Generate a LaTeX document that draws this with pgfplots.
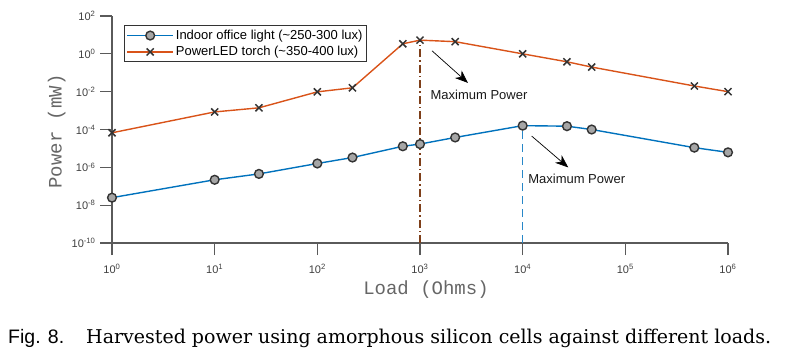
\documentclass[border=0pt]{standalone}
\usepackage{fontspec}
\setmainfont{Liberation Sans}
\newfontfamily\monofont{Liberation Mono}
\newfontfamily\capserif{DejaVu Serif}
\usepackage{pgfplots}
\pgfplotsset{compat=1.18}
\usetikzlibrary{arrows.meta}
\definecolor{mblue}{RGB}{0,114,189}
\definecolor{morange}{RGB}{217,83,25}
\definecolor{dblue}{RGB}{40,135,200}
\definecolor{dbrown}{RGB}{126,63,26}
\definecolor{axgray}{RGB}{90,90,90}

\pgfplotstableread{
x y
1 2.5e-8
10 2.2e-7
27 4.5e-7
100 1.6e-6
220 3.3e-6
680 1.3e-5
1000 1.7e-5
2200 3.8e-5
10000 1.6e-4
27000 1.5e-4
47000 1.0e-4
470000 1.1e-5
1000000 6.2e-6
}\officedata

\pgfplotstableread{
x y
1 6.7e-5
10 8.5e-4
27 1.4e-3
100 9.8e-3
220 1.6e-2
680 3.4
1000 5.3
2200 4.4
10000 1.0
27000 0.38
47000 0.2
470000 0.02
1000000 0.01
}\torchdata

\begin{document}
\begin{tikzpicture}[x=1bp,y=1bp]
\useasboundingbox (0,0) rectangle (788,-353);
\begin{axis}[
  at={(112bp,-243bp)}, anchor=south west,
  scale only axis, width=616bp, height=227bp,
  xmode=log, ymode=log, log basis x=10, log basis y=10,
  xmin=1, xmax=1e6, ymin=1e-10, ymax=1e2,
  axis lines=left,
  x axis line style={-, draw=axgray, line width=1.1bp},
  y axis line style={-, draw=axgray, line width=1.1bp},
  tick align=outside,
  major tick length=12bp, minor tick length=6bp,
  every tick/.style={draw=axgray, line width=1.1bp},
  xtick={1,10,100,1000,10000,100000,1000000},
  xticklabels={10\textsuperscript{0},10\textsuperscript{1},10\textsuperscript{2},10\textsuperscript{3},10\textsuperscript{4},10\textsuperscript{5},10\textsuperscript{6}},
  ytick={1e-10,1e-8,1e-6,1e-4,1e-2,1,1e2},
  yticklabels={10\textsuperscript{-10},10\textsuperscript{-8},10\textsuperscript{-6},10\textsuperscript{-4},10\textsuperscript{-2},10\textsuperscript{0},10\textsuperscript{2}},
  yminorticks=false,
  tick label style={font=\fontsize{11bp}{13bp}\selectfont, text=black!75},
  xticklabel style={yshift=-6bp},
  yticklabel style={xshift=-1bp},
  xlabel={Load (Ohms)},
  ylabel={Power (mW)},
  label style={font=\monofont\fontsize{19bp}{22bp}\selectfont, text=black!60},
  xlabel style={at={(axis description cs:0.5,0)}, anchor=center, xshift=6bp, yshift=-47bp},
  ylabel style={at={(axis description cs:-0.0898,0.491)}, anchor=center},
  legend style={at={(axis description cs:0.0195,0.96)}, anchor=north west,
    font=\fontsize{13bp}{15bp}\selectfont, draw=black!80, line width=1bp,
    inner xsep=2bp, inner ysep=2.5bp, row sep=1.5bp},
  legend cell align=left,
  legend image code/.code={\draw[mark repeat=2,mark phase=2,#1] plot coordinates {(0bp,0bp) (23bp,0bp) (46bp,0bp)};},
  clip=false,
]
\addplot[mblue, line width=1.4bp, mark=*, mark size=4.4bp,
  mark options={fill=black!35, draw=black!80, line width=1.4bp}] table[x=x,y=y] {\officedata};
\addlegendentry{Indoor office light (\textasciitilde 250-300 lux)}
\addplot[morange, line width=1.4bp, mark=x, mark size=5bp,
  mark options={draw=black!80, line width=1.5bp}] table[x=x,y=y] {\torchdata};
\addlegendentry{PowerLED torch (\textasciitilde 350-400 lux)}
\addplot[dbrown, line width=1.5bp, dash pattern=on 8bp off 3bp on 1.5bp off 3bp, forget plot] coordinates {(1000,1e-10) (1000,5.3)};
\addplot[dblue, line width=1.6bp, dash pattern=on 8bp off 5bp, forget plot] coordinates {(10000,1e-10) (10000,1.6e-4)};
\draw[black, line width=0.7bp, -{Stealth[length=13bp,width=10bp,inset=4bp]}] (axis cs:1309,1.45) -- (axis cs:2933,0.029);
\node[font=\fontsize{13bp}{15bp}\selectfont, text=black!90] at (axis cs:3758,0.0067) {Maximum Power};
\draw[black, line width=0.7bp, -{Stealth[length=13bp,width=10bp,inset=4bp]}] (axis cs:12240,4.5e-5) -- (axis cs:27800,9.9e-7);
\node[font=\fontsize{13bp}{15bp}\selectfont, text=black!90] at (axis cs:33600,2.57e-7) {Maximum Power};
\end{axis}
\node[anchor=base west, inner sep=0pt] at (8,-343) {\fontsize{19.5bp}{22bp}\selectfont Fig. 8.};
\node[anchor=base west, inner sep=0pt] at (86,-343) {\capserif\fontsize{19bp}{22bp}\selectfont Harvested power using amorphous silicon cells against different loads.};
\end{tikzpicture}
\end{document}
